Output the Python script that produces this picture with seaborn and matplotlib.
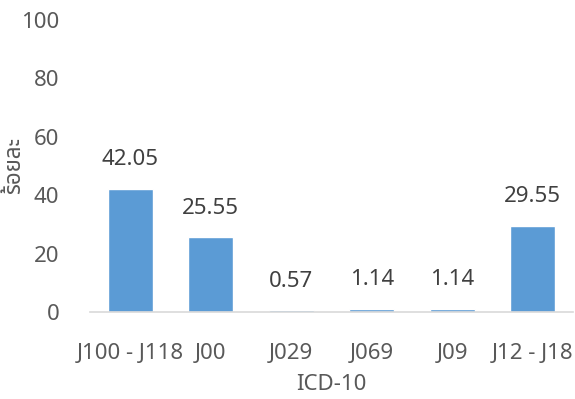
import matplotlib
matplotlib.use("Agg")
import matplotlib.pyplot as plt
import seaborn as sns
import pandas as pd

categories = ["J100 - J118", "J00", "J029", "J069", "J09", "J12 - J18"]
values = [42.05, 25.55, 0.57, 1.14, 1.14, 29.55]
value_labels = ["42.05", "25.55", "0.57", "1.14", "1.14", "29.55"]
y_ticks = [0, 20, 40, 60, 80, 100]
x_title = "ICD-10"
y_title = "ร้อยละ"

sns.set_theme(style="white")
plt.rcParams['font.family'] = ['Noto Sans', 'Noto Sans Thai', 'Loma', 'Garuda', 'DejaVu Sans']

df = pd.DataFrame({"cat": categories, "val": values})

fig = plt.figure(figsize=(5.75, 3.99), dpi=100)
ax = fig.add_axes([0.1565, 0.218, 0.84, 0.732])
sns.barplot(data=df, x="cat", y="val", color="#5B9BD5", width=0.56, ax=ax, saturation=1)

text_color = "#404040"
fs = 16
for i, (v, lab) in enumerate(zip(values, value_labels)):
    ax.annotate(lab, (i, v), xytext=(0, 13.5), textcoords="offset points",
                ha="center", va="bottom", fontsize=fs, color=text_color)

ax.set_xlim(-0.5, 5.5)
ax.set_ylim(0, 100)
ax.set_yticks(y_ticks)
ax.set_yticklabels([str(t) for t in y_ticks])
ax.tick_params(axis="both", length=0, labelsize=fs, colors="#595959")
ax.tick_params(axis="x", pad=22)
ax.tick_params(axis="y", pad=22)
ax.set_xlabel(x_title, fontsize=fs, color="#595959")
ax.set_ylabel(y_title, fontsize=fs, color="#595959")
ax.xaxis.set_label_coords(0.5, -0.247)
ax.yaxis.set_label_coords(-0.155, 0.5)
ax.xaxis.label.set_va("center")
ax.yaxis.label.set_va("center")
for s in ["top", "right", "left"]:
    ax.spines[s].set_visible(False)
ax.spines["bottom"].set_color("#D9D9D9")
ax.spines["bottom"].set_linewidth(1.2)
ax.grid(False)

fig.savefig("out.png", dpi=100)
